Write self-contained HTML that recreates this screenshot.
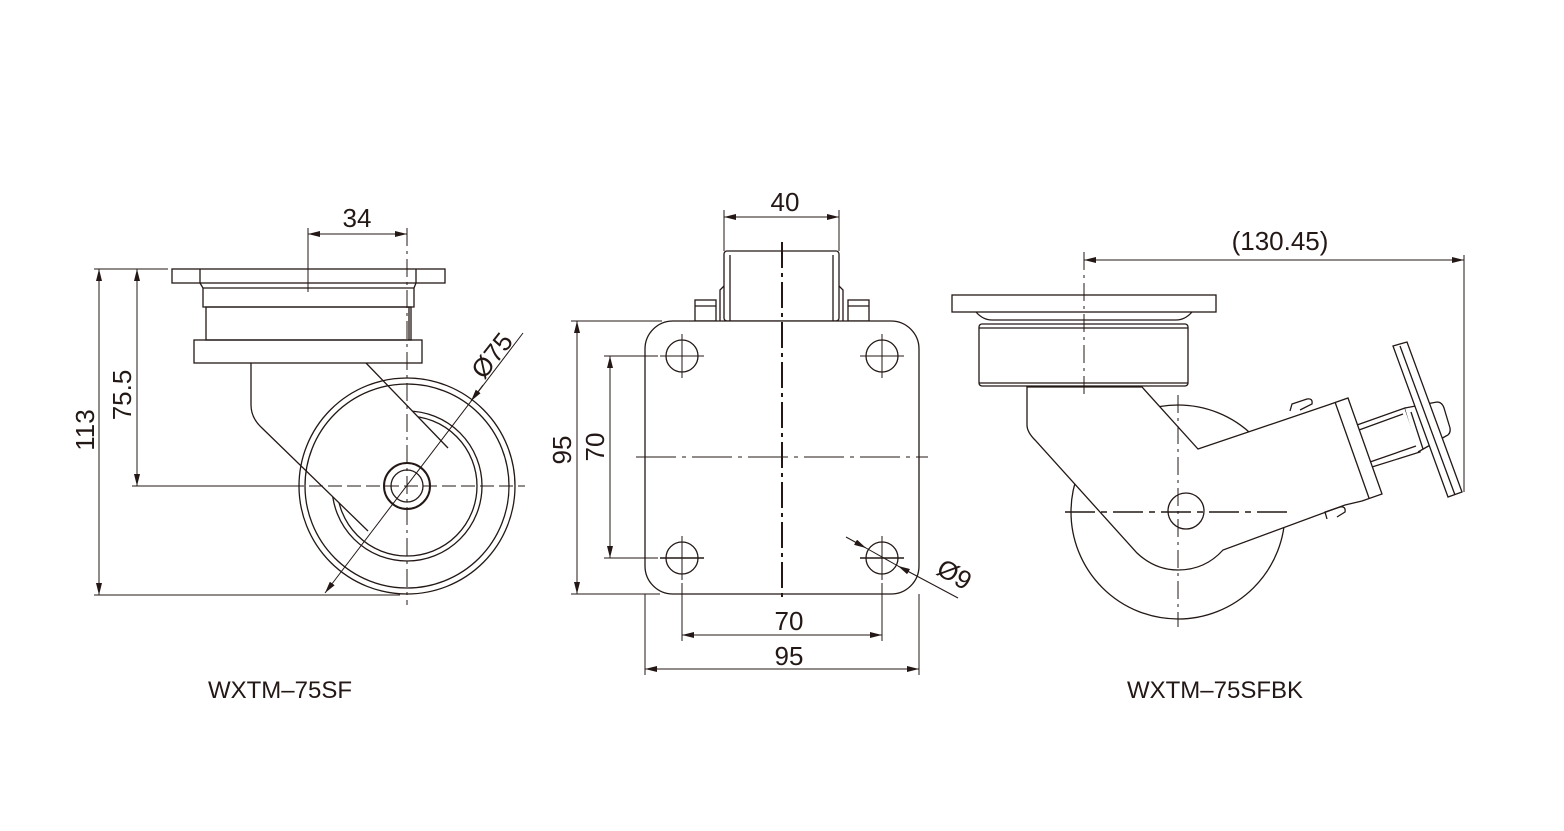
<!DOCTYPE html>
<html><head><meta charset="utf-8"><style>
html,body{margin:0;padding:0;background:#fff;}
svg{display:block;}
text{font-family:"Liberation Sans",sans-serif;fill:#231815;}
</style></head><body>
<svg width="1564" height="831" viewBox="0 0 1564 831" xmlns="http://www.w3.org/2000/svg">
<defs>
<marker id="a" viewBox="0 0 12 6" refX="12" refY="3" markerWidth="12" markerHeight="6" orient="auto-start-reverse" markerUnits="userSpaceOnUse"><path d="M0,0 L12,3 L0,6 z" fill="#231815"/></marker>
</defs>
<g stroke="#231815" stroke-width="1.3" fill="none">
<!-- ================= LEFT VIEW ================= -->
<circle cx="407" cy="486" r="75"/>
<circle cx="407" cy="486" r="70"/>
<path d="M251,363 L366,363 L448,448 L368,531 L262,428 Q251,418 251,405 Z" fill="#fff" stroke="none"/>
<path d="M251,363 L251,405 Q251,418 262,428 L368,531"/>
<path d="M366,363 L448,448"/>
<circle cx="407" cy="486" r="108"/>
<circle cx="407" cy="486" r="102"/>
<circle cx="407" cy="486" r="23" fill="#fff" stroke-width="2"/>
<circle cx="407" cy="486" r="16"/>
<rect x="172" y="269" width="273" height="14"/>
<line x1="200" y1="269" x2="200" y2="283"/><line x1="416" y1="269" x2="416" y2="283"/>
<path d="M200,283 L203,288 L203,307 L414,307 L414,288 L416,283"/>
<line x1="203" y1="288" x2="414" y2="288"/>
<rect x="206" y="307" width="205" height="33"/>
<line x1="409" y1="307" x2="409" y2="340"/>
<rect x="194" y="340" width="228" height="23"/>
<line x1="407" y1="228" x2="407" y2="605" stroke-dasharray="18,5,3,5" stroke-width="1"/>
<line x1="290" y1="486" x2="525" y2="486" stroke-dasharray="14,5" stroke-width="1"/>
<line x1="308" y1="228" x2="308" y2="292" stroke-width="1"/>
<line x1="94" y1="269" x2="168" y2="269" stroke-width="1"/>
<line x1="94" y1="595" x2="400" y2="595" stroke-width="1"/>
<line x1="132" y1="486" x2="290" y2="486" stroke-width="1"/>
<line x1="99" y1="269" x2="99" y2="595" stroke-width="1" marker-start="url(#a)" marker-end="url(#a)"/>
<line x1="137" y1="269" x2="137" y2="486" stroke-width="1" marker-start="url(#a)" marker-end="url(#a)"/>
<line x1="308" y1="234" x2="407" y2="234" stroke-width="1" marker-start="url(#a)" marker-end="url(#a)"/>
<line x1="325" y1="593" x2="523" y2="333" stroke-width="1" marker-start="url(#a)"/>
<line x1="483" y1="385" x2="471" y2="401" stroke-width="1" marker-end="url(#a)"/>

<!-- ================= MIDDLE VIEW ================= -->
<rect x="724" y="251" width="115" height="70" rx="3"/>
<line x1="730" y1="255" x2="730" y2="321"/><line x1="833" y1="255" x2="833" y2="321"/>
<path d="M724,286 L720,290 L720,321 M839,286 L843,290 L843,321"/>
<rect x="695" y="300" width="21" height="21"/><line x1="695" y1="306" x2="716" y2="306"/>
<rect x="848" y="300" width="21" height="21"/><line x1="848" y1="306" x2="869" y2="306"/>
<rect x="645" y="321" width="274" height="273" rx="28" fill="#fff"/>
<circle cx="682" cy="356" r="16"/><circle cx="882" cy="356" r="16"/>
<circle cx="682" cy="558" r="16"/><circle cx="882" cy="558" r="16"/>
<g stroke-width="1">
<line x1="660" y1="356" x2="704" y2="356"/><line x1="682" y1="334" x2="682" y2="378"/>
<line x1="860" y1="356" x2="904" y2="356"/><line x1="882" y1="334" x2="882" y2="378"/>
<line x1="660" y1="558" x2="704" y2="558" stroke-width="1.6"/><line x1="682" y1="536" x2="682" y2="580"/>
<line x1="860" y1="558" x2="904" y2="558" stroke-width="1.6"/><line x1="882" y1="536" x2="882" y2="580"/>
</g>
<line x1="782" y1="242" x2="782" y2="598" stroke-dasharray="26,5,4,5" stroke-width="2"/>
<line x1="636" y1="457" x2="928" y2="457" stroke-dasharray="40,6,4,6" stroke-width="1"/>
<g stroke-width="1">
<line x1="724" y1="210" x2="724" y2="251"/><line x1="839" y1="210" x2="839" y2="251"/>
<line x1="724" y1="217" x2="839" y2="217" marker-start="url(#a)" marker-end="url(#a)"/>
<line x1="571" y1="321" x2="662" y2="321"/><line x1="571" y1="594" x2="660" y2="594"/>
<line x1="577" y1="321" x2="577" y2="594" marker-start="url(#a)" marker-end="url(#a)"/>
<line x1="604" y1="356" x2="658" y2="356"/><line x1="604" y1="558" x2="658" y2="558"/>
<line x1="610" y1="356" x2="610" y2="558" marker-start="url(#a)" marker-end="url(#a)"/>
<line x1="682" y1="583" x2="682" y2="641"/><line x1="882" y1="583" x2="882" y2="641"/>
<line x1="682" y1="635" x2="882" y2="635" marker-start="url(#a)" marker-end="url(#a)"/>
<line x1="645" y1="594" x2="645" y2="675"/><line x1="919" y1="594" x2="919" y2="675"/>
<line x1="645" y1="669" x2="919" y2="669" marker-start="url(#a)" marker-end="url(#a)"/>
<line x1="846" y1="537" x2="866" y2="548" marker-end="url(#a)"/>
<line x1="958" y1="598" x2="898" y2="566" marker-end="url(#a)"/>
<line x1="866" y1="548" x2="898" y2="566"/>
</g>

<!-- ================= RIGHT VIEW ================= -->
<circle cx="1178" cy="512" r="107"/>
<path d="M1027,387 L1142,387 L1198,449 L1328,405 L1348,398 L1382,494 L1362,501 L1345,505 L1223,550 Q1205,570 1178,570 Q1155,570 1137,553 L1035,440 Q1027,432 1027,425 Z" fill="#fff"/>
<line x1="1335" y1="402" x2="1369" y2="498"/>
<path d="M1290,411 L1292,404 L1307,399 Q1313,398 1312,404 L1300,410" />
<path d="M1327,519 L1325,512 L1340,507 Q1346,506 1345,512 L1337,517"/>
<path d="M1357,425 L1405,408 L1420,452 L1372,467"/>
<line x1="1359" y1="430" x2="1403" y2="414"/><line x1="1370" y1="462" x2="1416" y2="446"/>
<path d="M1405,408 L1437,402 Q1442,402 1444,408 L1450,428 Q1451,434 1446,436 L1418,452" fill="#fff"/>
<line x1="1411" y1="412" x2="1423" y2="449"/>
<path d="M1393,346 L1407,342 L1462,492 L1448,497 Z" fill="#fff"/>
<line x1="1400" y1="346" x2="1455" y2="495"/>
<circle cx="1186" cy="511" r="18" fill="#fff"/>
<rect x="952" y="295" width="264" height="17"/>
<path d="M976,312 Q983,320 992,320 L1176,320 Q1185,320 1192,312"/>
<rect x="979" y="324" width="209" height="62" rx="3"/>
<line x1="979" y1="328" x2="1188" y2="328"/><line x1="979" y1="383" x2="1188" y2="383"/>
<line x1="1084" y1="252" x2="1084" y2="395" stroke-dasharray="18,5,3,5" stroke-width="1"/>
<line x1="1178" y1="395" x2="1178" y2="627" stroke-dasharray="18,5,3,5" stroke-width="1"/>
<line x1="1065" y1="512" x2="1293" y2="512" stroke-dasharray="30,6,6,6" stroke-width="1.4"/>
<line x1="1464" y1="255" x2="1464" y2="492" stroke-width="1"/>
<line x1="1084" y1="260" x2="1464" y2="260" stroke-width="1" marker-start="url(#a)" marker-end="url(#a)"/>
</g>
<g font-size="26">
<text x="357" y="227" text-anchor="middle">34</text>
<text transform="translate(94,430) rotate(-90)" text-anchor="middle">113</text>
<text transform="translate(131,395) rotate(-90)" text-anchor="middle">75.5</text>
<text transform="translate(499,361) rotate(-52)" text-anchor="middle">Ø75</text>
<text x="785" y="211" text-anchor="middle">40</text>
<text transform="translate(571,450) rotate(-90)" text-anchor="middle">95</text>
<text transform="translate(604,447) rotate(-90)" text-anchor="middle">70</text>
<text x="789" y="630" text-anchor="middle">70</text>
<text x="789" y="665" text-anchor="middle">95</text>
<text transform="translate(950,582) rotate(30)" text-anchor="middle">Ø9</text>
<text x="1280" y="250" text-anchor="middle">(130.45)</text>
<text x="280" y="698" text-anchor="middle" font-size="24">WXTM–75SF</text>
<text x="1215" y="698" text-anchor="middle" font-size="24">WXTM–75SFBK</text>
</g>
</svg>
</body></html>
